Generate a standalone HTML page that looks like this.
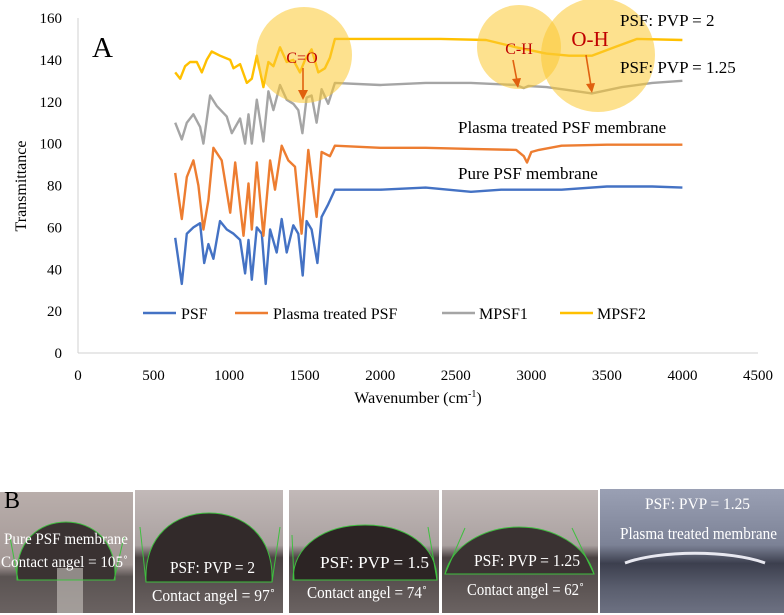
<!DOCTYPE html>
<html><head><meta charset="utf-8"><style>
html,body{margin:0;padding:0;background:#fff;}
svg{display:block;font-family:"Liberation Serif",serif;}
</style></head><body>
<svg id="chart" width="784" height="615" viewBox="0 0 784 615">
<defs>
<linearGradient id="bg1" x1="0" y1="0" x2="0" y2="1"><stop offset="0" stop-color="#b9aeab"/><stop offset="0.6" stop-color="#a39896"/><stop offset="0.7" stop-color="#5a5352"/><stop offset="1" stop-color="#6a6261"/></linearGradient>
<linearGradient id="bg2" x1="0" y1="0" x2="0" y2="1"><stop offset="0" stop-color="#c2b9b8"/><stop offset="0.45" stop-color="#aaa1a0"/><stop offset="0.55" stop-color="#4a4242"/><stop offset="1" stop-color="#6b6362"/></linearGradient>
<linearGradient id="bg5" x1="0" y1="0" x2="0" y2="1"><stop offset="0" stop-color="#9aa0b4"/><stop offset="0.45" stop-color="#7c8296"/><stop offset="0.6" stop-color="#3c3f4e"/><stop offset="0.8" stop-color="#5a5e6e"/><stop offset="1" stop-color="#6d7182"/></linearGradient>
</defs>
<g id="axes"></g>
<g id="series"></g>
<g id="annot">
<circle cx="304" cy="55" r="48" fill="rgba(252,200,50,0.55)"/>
<circle cx="519" cy="47" r="42" fill="rgba(252,200,50,0.55)"/>
<circle cx="598" cy="55" r="57" fill="rgba(252,200,50,0.55)"/>
<text x="302" y="63" font-size="16" fill="#c00000" text-anchor="middle">C=O</text>
<text x="519" y="54" font-size="16" fill="#c00000" text-anchor="middle">C-H</text>
<text x="590" y="46" font-size="21" fill="#c00000" text-anchor="middle">O-H</text>
<g stroke="#e0600f" stroke-width="1.6" fill="#e0600f">
<line x1="303" y1="68" x2="303" y2="92"/><polygon points="298,90 308,90 303,100" stroke="none"/>
<line x1="513" y1="60" x2="517" y2="81"/><polygon points="512,79 521,78 518,88" stroke="none"/>
<line x1="586" y1="55" x2="591" y2="86"/><polygon points="586,84 595,83 592,93" stroke="none"/>
</g>
<text x="92" y="57" font-size="29" fill="#000">A</text>
<text x="620" y="26" font-size="17" fill="#000">PSF: PVP = 2</text>
<text x="620" y="73" font-size="17" fill="#000">PSF: PVP = 1.25</text>
<text x="458" y="133" font-size="17" fill="#000">Plasma treated PSF membrane</text>
<text x="458" y="179" font-size="17" fill="#000">Pure PSF membrane</text>
</g>
<g id="legend">
<line x1="143" y1="313" x2="176" y2="313" stroke="#4472c4" stroke-width="2.5"/><text x="181" y="319" font-size="16">PSF</text>
<line x1="235" y1="313" x2="268" y2="313" stroke="#ed7d31" stroke-width="2.5"/><text x="273" y="319" font-size="16">Plasma treated PSF</text>
<line x1="442" y1="313" x2="475" y2="313" stroke="#a5a5a5" stroke-width="2.5"/><text x="479" y="319" font-size="16">MPSF1</text>
<line x1="560" y1="313" x2="593" y2="313" stroke="#ffc000" stroke-width="2.5"/><text x="597" y="319" font-size="16">MPSF2</text>
</g>
<g id="photos">
<g>
<rect x="0" y="492" width="133" height="121" fill="url(#bg1)"/>
<path d="M17,580 C15,540 40,522 66,522 C92,522 117,540 115,580 Z" fill="#3a3232"/>
<rect x="57" y="568" width="26" height="45" fill="#c9c4c0" opacity="0.6"/>
<path d="M17,580 C15,540 40,522 66,522 C92,522 117,540 115,580 Z" fill="none" stroke="#3fbf3f" stroke-width="1"/>
<line x1="10" y1="537" x2="18" y2="580" stroke="#3fbf3f"/><line x1="124" y1="537" x2="114" y2="580" stroke="#3fbf3f"/>
<text x="4" y="544" font-size="16" textLength="124" lengthAdjust="spacingAndGlyphs" fill="#fff">Pure PSF membrane</text>
<text x="1" y="567" font-size="16" textLength="127" lengthAdjust="spacingAndGlyphs" fill="#fff">Contact angel = 105˚</text>
<text x="4" y="508" font-size="24" fill="#000">B</text>
</g>
<g>
<rect x="135" y="490" width="148" height="123" fill="url(#bg2)"/>
<path d="M146,582 C144,535 175,513 209,513 C243,513 274,535 272,582 Z" fill="#322a2a" stroke="#3fbf3f" stroke-width="1"/>
<line x1="140" y1="527" x2="146" y2="582" stroke="#3fbf3f"/><line x1="280" y1="527" x2="272" y2="582" stroke="#3fbf3f"/>
<text x="170" y="573" font-size="17" textLength="85" lengthAdjust="spacingAndGlyphs" fill="#fff">PSF: PVP = 2</text>
<text x="152" y="601" font-size="17" textLength="123" lengthAdjust="spacingAndGlyphs" fill="#fff">Contact angel = 97˚</text>
</g>
<g>
<rect x="289" y="490" width="150" height="123" fill="url(#bg2)"/>
<path d="M293,580 C293,545 325,525 365,525 C405,525 437,545 437,580 Z" fill="#2c2424" stroke="#3fbf3f" stroke-width="1"/>
<line x1="292" y1="535" x2="294" y2="580" stroke="#3fbf3f"/><line x1="428" y1="527" x2="437" y2="580" stroke="#3fbf3f"/>
<text x="320" y="568" font-size="17" textLength="109" lengthAdjust="spacingAndGlyphs" fill="#fff">PSF: PVP = 1.5</text>
<text x="307" y="598" font-size="17" textLength="120" lengthAdjust="spacingAndGlyphs" fill="#fff">Contact angel = 74˚</text>
</g>
<g>
<rect x="442" y="490" width="156" height="123" fill="url(#bg2)"/>
<path d="M445,574 C452,545 485,527 519,527 C553,527 586,545 594,574 Z" fill="#3a3232" stroke="#3fbf3f" stroke-width="1"/>
<line x1="465" y1="528" x2="445" y2="574" stroke="#3fbf3f"/><line x1="572" y1="528" x2="594" y2="574" stroke="#3fbf3f"/>
<text x="474" y="566" font-size="17" textLength="106" lengthAdjust="spacingAndGlyphs" fill="#fff">PSF: PVP = 1.25</text>
<text x="467" y="595" font-size="17" textLength="117" lengthAdjust="spacingAndGlyphs" fill="#fff">Contact angel = 62˚</text>
</g>
<g>
<rect x="600" y="489" width="184" height="124" fill="url(#bg5)"/>
<path d="M625,563 C660,550 730,550 765,563" fill="none" stroke="#e8e8f0" stroke-width="3"/>
<text x="645" y="509" font-size="16" textLength="105" lengthAdjust="spacingAndGlyphs" fill="#fff">PSF: PVP = 1.25</text>
<text x="620" y="539" font-size="17" textLength="157" lengthAdjust="spacingAndGlyphs" fill="#fff">Plasma treated membrane</text>
</g>
</g>
</svg>
<script>
const xTicks=[0,500,1000,1500,2000,2500,3000,3500,4000,4500];
const yTicks=[0,20,40,60,80,100,120,140,160];
const psfWn=[643,687,720,764,808,835,863,896,940,985,1029,1073,1106,1128,1150,1183,1216,1242,1271,1315,1348,1381,1425,1458,1487,1513,1546,1584,1612,1656,1700,2000,2300,2600,2800,3000,3200,3500,3800,4000];
const psfVal=[55,33,57,60,62,43,52,45,63,59,57,54,38,54,35,60,57,33,59,48,64,48,61,57,37,63,59,43,65,71,78,78,79,77,78,78,78,79.5,79.5,79];
const plasmaWn=[643,687,720,764,797,830,863,896,951,1007,1040,1095,1128,1150,1183,1227,1271,1304,1348,1392,1436,1480,1524,1579,1612,1667,1700,2000,2300,2600,2900,2950,2971,3000,3050,3200,3500,4000];
const plasmaVal=[86,64,84,92,80,59,73,98,92,67,91,56,81,59,91,56,92,78,99,92,89,57,97,65,96,94,99,98,98,97.5,97,94,91,96,97,99,99.5,99.5];
const mpsf1Wn=[643,687,720,764,808,830,874,918,984,1018,1073,1106,1128,1150,1183,1227,1260,1293,1337,1381,1425,1458,1485,1513,1546,1579,1612,1656,1700,2000,2300,2600,2900,2950,2980,3100,3250,3400,3600,3800,4000];
const mpsf1Val=[110,102,110,114,108,100,123,118,113,105,112,100,114,100,121,101,125,116,128,121,119,116,105,122,123,110,126,119,129,128,129,129,128,126.5,127.5,127,125.5,124,127,129,130];
const mpsf2Wn=[643,676,709,742,786,819,852,885,940,1007,1029,1073,1117,1150,1183,1227,1260,1293,1337,1381,1425,1469,1502,1546,1590,1634,1667,1700,2000,2400,2700,2900,3100,3250,3400,3550,3700,4000];
const mpsf2Val=[134,131,137,139,139,134,140,144,142,140,136,138,129,131,142,127,139,137,146,139,140,134,140,145,134,136,141,150,150,150,149.5,146,143,142,142,146,150,149.5];
const NS='http://www.w3.org/2000/svg';
const X0=78,X1=758,Y0=353,Y1=18;
function sx(v){return X0+(v-0)/4500*(X1-X0);}
function sy(v){return Y0-(v-0)/160*(Y0-Y1);}
function mk(tag,attrs,parent,txt){const e=document.createElementNS(NS,tag);for(const k in attrs)e.setAttribute(k,attrs[k]);if(txt!==undefined)e.textContent=txt;parent.appendChild(e);return e;}
const axes=document.getElementById('axes');
const xa=mk('line',{x1:X0,y1:Y0,x2:X1,y2:Y0,stroke:'#d0d0d0','stroke-width':1},axes);


const ya=mk('line',{x1:X0,y1:Y0,x2:X0,y2:Y1,stroke:'#d0d0d0','stroke-width':1},axes);


xTicks.forEach(t=>{const e=mk('text',{x:sx(t),y:380,'font-size':15,'text-anchor':'middle'},axes,String(t));

});
yTicks.forEach(t=>{const e=mk('text',{x:62,y:sy(t)+5,'font-size':15,'text-anchor':'end'},axes,String(t));

});
const xt=mk('text',{x:418,y:403,'font-size':16,'text-anchor':'middle'},axes);
xt.innerHTML='Wavenumber (cm<tspan dy="-6" font-size="10">-1</tspan><tspan dy="6">)</tspan>';


const yt=mk('text',{x:0,y:0,'font-size':16,'text-anchor':'middle',transform:'translate(26,186) rotate(-90)'},axes,'Transmittance');


const ser=document.getElementById('series');
function drawLine(wn,val,color,name){
  const d=wn.map((w,i)=>(i?'L':'M')+sx(w).toFixed(1)+','+sy(val[i]).toFixed(1)).join(' ');
  const p=mk('path',{d:d,fill:'none',stroke:color,'stroke-width':2.4,'stroke-linejoin':'round'},ser);
  
  
}
drawLine(psfWn,psfVal,'#4472c4','line-psf');
drawLine(plasmaWn,plasmaVal,'#ed7d31','line-plasma-treated-psf');
drawLine(mpsf1Wn,mpsf1Val,'#a5a5a5','line-mpsf1');
drawLine(mpsf2Wn,mpsf2Val,'#ffc000','line-mpsf2');
</script>
</body></html>
